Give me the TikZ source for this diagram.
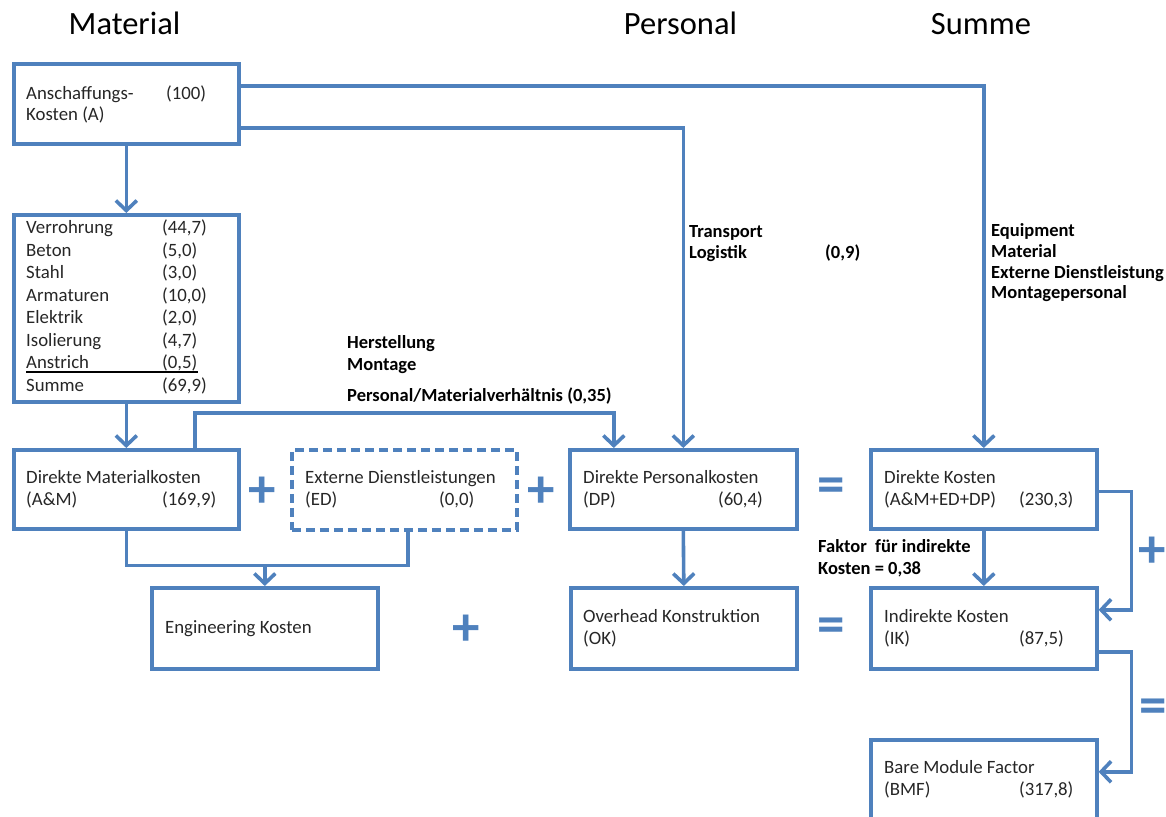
\documentclass[tikz,border=0pt]{standalone}
\usepackage{fontspec}
\setmainfont{Carlito}
\usetikzlibrary{arrows.meta,calc}
\definecolor{boxblue}{RGB}{79,129,189}
\definecolor{txtgray}{RGB}{38,38,38}

\begin{document}
\begin{tikzpicture}[x=1pt,y=-1pt,
  box/.style={draw=boxblue, line width=3.6pt, anchor=north west,
    minimum width=225pt, minimum height=79pt, inner sep=0pt},
  dashbox/.style={box, dash pattern=on 9pt off 5pt},
  txt/.style={anchor=base west, inner sep=0pt, text=txtgray,
    font=\fontsize{18.8}{22}\selectfont},
  lbl/.style={anchor=base west, inner sep=0pt, text=black,
    font=\fontsize{18.5}{21.5}\selectfont\bfseries},
  head/.style={anchor=base, inner sep=0pt, text=black,
    font=\fontsize{32.5}{36}\selectfont},
  op/.style={inner sep=0pt, text=boxblue,
    font=\fontsize{55}{55}\selectfont\bfseries},
  wire/.style={draw=boxblue, line width=3.6pt},
  conn/.style={wire, -{Straight Barb[length=10pt,width=21pt]}}
]
\useasboundingbox (0,0) rectangle (1166,816);

% column headings
\node[head] (hMat) at (124.5,35) {Material};
\node[head] (hPers) at (680.5,35) {Personal};
\node[head] (hSum) at (981,35) {Summe};

% boxes
\node[box, minimum height=80pt] (A) at (12,62) {};
\node[box, minimum height=187pt] (L) at (12,213) {};
\node[box] (DM) at (12,448) {};
\node[dashbox, minimum height=80pt] (ED) at (290,448) {};
\node[box, minimum width=227pt] (DP) at (568,448) {};
\node[box, minimum width=226pt] (DK) at (869,448) {};
\node[box, minimum width=226pt, minimum height=81pt] (Eng) at (150,586) {};
\node[box, minimum width=226pt, minimum height=81pt] (OK) at (569,586) {};
\node[box, minimum width=226pt, minimum height=81pt] (IK) at (869,586) {};
\node[box, minimum width=226pt, minimum height=90pt] (BMF) at (869,738) {};

% purchase costs
\node[txt] (a1) at (26,99) {Anschaffungs-};
\node[txt] (a2) at (26,120.5) {Kosten (A)};
\node[txt] (a3) at (166,99) {(100)};

% material breakdown
\node[txt] (l1) at (26,233.5) {Verrohrung};  \node[txt] (v1) at (162,233.5) {(44,7)};
\node[txt] (l2) at (26,256)   {Beton};       \node[txt] (v2) at (162,256)   {(5,0)};
\node[txt] (l3) at (26,278.5) {Stahl};       \node[txt] (v3) at (162,278.5) {(3,0)};
\node[txt] (l4) at (26,301)   {Armaturen};   \node[txt] (v4) at (162,301)   {(10,0)};
\node[txt] (l5) at (26,323.5) {Elektrik};    \node[txt] (v5) at (162,323.5) {(2,0)};
\node[txt] (l6) at (26,346)   {Isolierung};  \node[txt] (v6) at (162,346)   {(4,7)};
\node[txt] (l7) at (26,368.5) {Anstrich};    \node[txt] (v7) at (162,368.5) {(0,5)};
\node[txt] (l8) at (26,391)   {Summe};       \node[txt] (v8) at (162,391)   {(69,9)};
\draw[line width=1.1pt, black] ([yshift=-3.5pt]l7.base west) -- ([yshift=-3.5pt]l7.base west -| v7.east);

% direct material costs
\node[txt] (dm1) at (26,483.5) {Direkte Materialkosten};
\node[txt] (dm2) at (26,505) {(A\&M)};
\node[txt] (dm3) at (162,505) {(169,9)};

% external services
\node[txt] (ed1) at (305,483.5) {Externe Dienstleistungen};
\node[txt] (ed2) at (305,505) {(ED)};
\node[txt] (ed3) at (439,505) {(0,0)};

% direct personnel costs
\node[txt] (dp1) at (583,483.5) {Direkte Personalkosten};
\node[txt] (dp2) at (583,505) {(DP)};
\node[txt] (dp3) at (718,505) {(60,4)};

% direct costs
\node[txt] (dk1) at (884,483.5) {Direkte Kosten};
\node[txt] (dk2) at (884,505) {(A\&M+ED+DP)};
\node[txt] (dk3) at (1019,505) {(230,3)};

% engineering and overhead
\node[txt] (en1) at (165,633) {Engineering Kosten};
\node[txt] (ok1) at (583,622) {Overhead Konstruktion};
\node[txt] (ok2) at (583,644) {(OK)};

% indirect costs
\node[txt] (ik1) at (884,622) {Indirekte Kosten};
\node[txt] (ik2) at (884,644) {(IK)};
\node[txt] (ik3) at (1019,644) {(87,5)};

% bare module factor
\node[txt] (bm1) at (884,773) {Bare Module Factor};
\node[txt] (bm2) at (884,795) {(BMF)};
\node[txt] (bm3) at (1019,795) {(317,8)};

% connector labels
\node[lbl] (h1) at (347,348) {Herstellung};
\node[lbl] (h2) at (347,370) {Montage};
\node[lbl] (h3) at (347,401) {Personal/Materialverhältnis (0,35)};
\node[lbl] (t1) at (689,237) {Transport};
\node[lbl] (t2) at (689,258.5) {Logistik};
\node[lbl] (t3) at (825,258.5) {(0,9)};
\node[lbl] (e1) at (991,236.5) {Equipment};
\node[lbl] (e2) at (991,257.5) {Material};
\node[lbl] (e3) at (991,278) {Externe Dienstleistung};
\node[lbl] (e4) at (991,298.5) {Montagepersonal};
\node[lbl] (f1) at (818,552) {Faktor\ \ für indirekte};
\node[lbl] (f2) at (818,574) {Kosten = 0,38};

% operators
\node[op] (p1) at (262,492) {+};
\node[op] (p2) at (541,492) {+};
\node[op] (q1) at (831,490) {=};
\node[op] (p3) at (1152,552) {+};
\node[op] (p4) at (466,630) {+};
\node[op] (q2) at (831,630) {=};
\node[op] (q3) at (1153,711) {=};

% connectors
\draw[conn] (A.south) -- (L.north);
\draw[conn] ([yshift=18pt]A.east) -| (DK.north);
\draw[conn] ([yshift=-24pt]A.east) -| (DP.north);
\draw[conn] (L.south) -- (DM.north);
\draw[conn] ([xshift=68.5pt]DM.north) -- ++(0,-35) -| ([xshift=-69.5pt]DP.north);
\coordinate (J) at ([yshift=-35pt]DM.south);
\draw[wire] (DM.south) -- (J) -| ([xshift=3.5pt]ED.south);
\draw[conn] (Eng.north |- J) -- (Eng.north);
\draw[conn] (DP.south) -- (OK.north);
\draw[conn] (DK.south) -- (IK.north);
\draw[conn] ([yshift=-2pt]DK.east) -- ++(33,0) |- ([yshift=18.5pt]IK.east);
\draw[conn] ([yshift=-23.5pt]IK.east) -- ++(33,0) |- ([yshift=13pt]BMF.east);
\end{tikzpicture}
\end{document}
